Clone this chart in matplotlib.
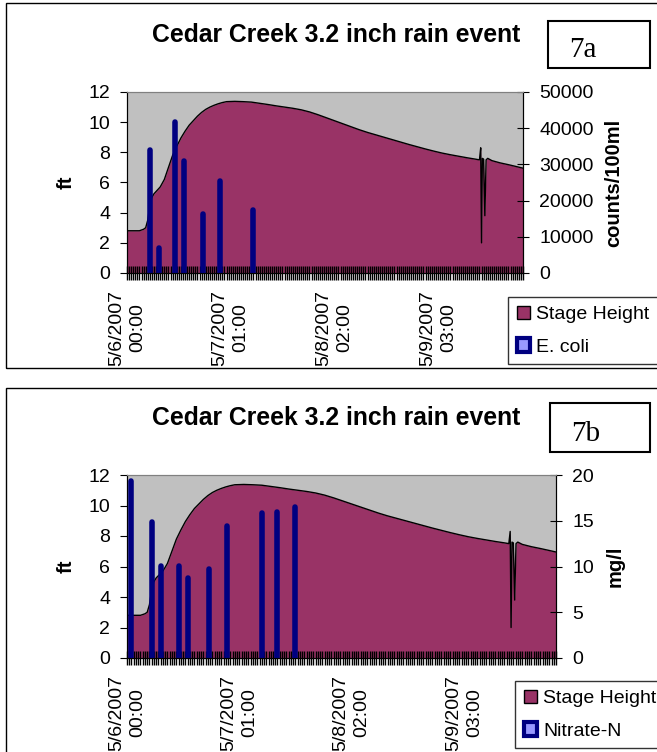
import matplotlib.pyplot as plt
from matplotlib.patches import Patch, Rectangle
from matplotlib.ticker import MultipleLocator

plt.rcParams['font.family'] = ['Liberation Sans', 'DejaVu Sans']

W, H = 657, 752

# stage height (ft), hours after 5/6/2007 00:00
stage_hours = [0, 3.0, 3.5, 4.0, 4.5, 5.0, 5.5, 6.0, 6.5, 7.0, 8.0, 9.0, 10.0,
               11.0, 12.0, 13.0, 14.0, 15.0, 16.0, 17.0, 18.0, 19.0, 20.0,
               21.0, 22.0, 23.0, 24.0, 26.0, 28.0, 30.0, 32.0, 34.0, 36.0,
               38.0, 40.0, 42.0, 44.0, 46.0, 48.0, 50.0, 52.0, 54.0, 56.0,
               58.0, 60.0, 62.0, 64.0, 66.0, 68.0, 70.0, 72.0, 74.0, 76.0,
               78.0, 80.0, 82.0, 84.0, 85.0, 85.3, 85.5, 85.7, 86.0, 86.3,
               86.6, 87.0, 88.0, 90.0, 92.0, 94.0, 95.5]
stage_ft = [2.8, 2.8, 2.85, 2.9, 3.0, 3.5, 4.5, 5.0, 5.25, 5.4, 5.7, 6.2, 7.0,
            7.8, 8.4, 8.95, 9.4, 9.8, 10.1, 10.4, 10.65, 10.85, 11.0,
            11.12, 11.22, 11.3, 11.36, 11.38, 11.36, 11.33, 11.25, 11.17, 11.08,
            11.0, 10.92, 10.82, 10.68, 10.5, 10.3, 10.1, 9.9, 9.7, 9.5,
            9.32, 9.16, 9.0, 8.84, 8.68, 8.52, 8.37, 8.22, 8.08, 7.95,
            7.84, 7.74, 7.64, 7.55, 7.5, 8.3, 2.0, 7.6, 7.55, 3.8,
            7.5, 7.6, 7.45, 7.3, 7.18, 7.05, 6.95]

ecoli_hours = [5.5, 7.7, 11.6, 13.8, 18.4, 22.4, 30.3]
ecoli_counts = [34000, 6900, 41800, 31000, 16300, 25500, 17500]

nitrate_hours = [0.8, 5.6, 7.5, 11.6, 13.6, 18.2, 22.3, 30.0, 33.4, 37.3]
nitrate_mgl = [19.3, 14.9, 10.05, 10.05, 8.7, 9.7, 14.45, 15.85, 16.0, 16.55]

label_hours = [0, 25, 50, 75]
label_text = ['5/6/2007\n00:00', '5/7/2007\n01:00',
              '5/8/2007\n02:00', '5/9/2007\n03:00']

title = 'Cedar Creek 3.2 inch rain event'
stage_color = '#993366'
bar_color = '#000080'

fig = plt.figure(figsize=(W / 100, H / 100), dpi=100)


def fx(px):
    return px / W


def fy(py):
    return 1 - py / H


def panel(frame_top, frame_bottom, title_y, box, box_text, plot_box,
          hours, values, rmax, rstep, rlabel, name, legend_xy, rlabel_x):
    # panel frame
    fig.add_artist(Rectangle((fx(6), fy(frame_bottom)), fx(700), frame_bottom / H - frame_top / H,
                             transform=fig.transFigure, fill=False, ec='black', lw=1))
    fig.text(fx(336), fy(title_y), title, ha='center', va='center',
             fontsize=17.8, fontweight='bold')
    x0, y0, x1, y1 = box
    fig.add_artist(Rectangle((fx(x0), fy(y1)), fx(x1 - x0), (y1 - y0) / H,
                             transform=fig.transFigure, fill=False, ec='black', lw=1.5))
    fig.text(fx(x0 + 21), fy(y1 - 11), box_text, ha='left', va='baseline',
             fontsize=21, family='Liberation Serif')

    l, t, r, b = plot_box
    ax = fig.add_axes([fx(l), fy(b), fx(r - l), (b - t) / H])
    ax.set_facecolor('#c0c0c0')
    ax.fill_between(stage_hours, stage_ft, 0, color=stage_color, lw=0)
    ax.plot(stage_hours, stage_ft, color='black', lw=1)
    ax.set_xlim(0, 95.5)
    ax.set_ylim(0, 12)
    ax.set_yticks(range(0, 13, 2))
    ax.tick_params(axis='y', direction='out', length=5, width=0.8, pad=7, labelsize=14)
    ax.tick_params(axis='x', which='both', bottom=False, labelbottom=False)
    ax.set_ylabel('ft', fontsize=14.5, fontweight='bold')
    ax.yaxis.set_label_coords((76 - l) / (r - l), 0.5)

    ax2 = ax.twinx()
    ax2.set_ylim(0, rmax)
    ax2.set_yticks(range(0, rmax + 1, rstep))
    ax2.vlines(hours, 0, values, colors=bar_color, linewidth=4, capstyle='round')
    ax2.tick_params(axis='y', direction='inout', length=8.6, width=0.8, pad=7.5, labelsize=14)
    ax2.set_ylabel(rlabel, fontsize=14.5, fontweight='bold')
    ax2.yaxis.set_label_coords((rlabel_x - l) / (r - l), 0.5)

    ax2.xaxis.set_visible(True)
    ax2.set_xticks(label_hours)
    ax2.set_xticklabels(label_text, rotation=90, ha='center', va='top',
                        multialignment='center', linespacing=1.3)
    ax2.xaxis.set_minor_locator(MultipleLocator(0.5))
    ax2.tick_params(axis='x', which='both', direction='inout', length=10,
                    width=1.0, color='black', pad=7, labelsize=14)
    for a in (ax, ax2):
        a.spines['top'].set_color('#808080')
        a.spines['top'].set_linewidth(0.8)
        a.spines['bottom'].set_color('black')
        a.spines['right'].set_color('black')
        a.spines['left'].set_color('black')

    handles = [Patch(facecolor=stage_color, edgecolor='black', lw=1),
               Patch(facecolor='#9999ff', edgecolor=bar_color, lw=3)]
    leg = fig.legend(handles, ['Stage Height', name], loc='upper left',
                     bbox_to_anchor=(fx(legend_xy[0]), fy(legend_xy[1])),
                     fontsize=14, frameon=True, fancybox=False, edgecolor='black',
                     borderaxespad=0, handlelength=0.7, handleheight=0.7,
                     handletextpad=0.3, labelspacing=0.75, borderpad=0.45)
    leg.get_frame().set_linewidth(1)


panel(3, 368, 35, (548, 21, 650, 68), '7a', (127, 92, 523, 273),
      ecoli_hours, ecoli_counts, 50000, 10000, 'counts/100ml', 'E. coli',
      (508, 297), 604)
panel(388, 800, 418, (550, 403, 650, 452), '7b', (127, 475, 556, 658),
      nitrate_hours, nitrate_mgl, 20, 5, 'mg/l', 'Nitrate-N',
      (515, 681), 606)

fig.savefig('out.png', dpi=100)
